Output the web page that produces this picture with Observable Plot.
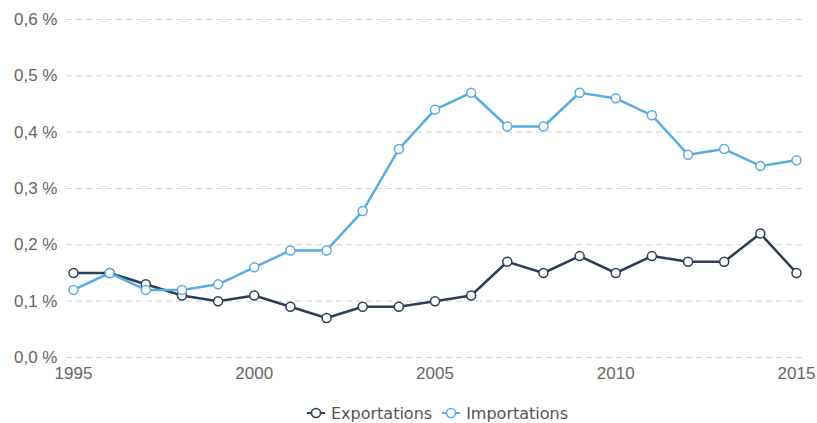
<!DOCTYPE html>
<html>
<head>
<meta charset="utf-8">
<script src="https://cdn.jsdelivr.net/npm/d3@7"></script>
<script src="https://cdn.jsdelivr.net/npm/@observablehq/plot@0.6"></script>
<style>
  body { margin: 0; background: #fff; }
  #chart svg { display: block; }
  .legend { display: flex; justify-content: center; align-items: center; gap: 10px; font-family: "DejaVu Sans", sans-serif; font-size: 16px; color: #555; height: 36px; margin-left: 58px; }
  .legend span { display: inline-flex; align-items: center; gap: 6px; }
</style>
</head>
<body>
<div id="chart"></div>
<div class="legend" id="legend"></div>
<script>
const years = [1995,1996,1997,1998,1999,2000,2001,2002,2003,2004,2005,2006,2007,2008,2009,2010,2011,2012,2013,2014,2015];
const exportations = [0.15,0.15,0.13,0.11,0.10,0.11,0.09,0.07,0.09,0.09,0.10,0.11,0.17,0.15,0.18,0.15,0.18,0.17,0.17,0.22,0.15];
const importations = [0.12,0.15,0.12,0.12,0.13,0.16,0.19,0.19,0.26,0.37,0.44,0.47,0.41,0.41,0.47,0.46,0.43,0.36,0.37,0.34,0.35];
const seriesNames = ["Exportations", "Importations"];
const seriesColors = ["#2b3d58", "#5aade0"];
const yTicks = [0, 0.1, 0.2, 0.3, 0.4, 0.5, 0.6];
const xTicks = [1995, 2000, 2005, 2010, 2015];

const data = [];
years.forEach((y, i) => {
  data.push({year: y, value: exportations[i], series: seriesNames[0]});
  data.push({year: y, value: importations[i], series: seriesNames[1]});
});

const fmt = d => d.toFixed(1).replace(".", ",") + " %";

const plot = Plot.plot({
  width: 817,
  height: 395,
  marginTop: 19,
  marginBottom: 38,
  marginLeft: 73,
  marginRight: 21,
  style: {fontFamily: "'Liberation Sans', Arial, sans-serif", fontSize: "17px", color: "#666", background: "#fff"},
  x: {domain: [1995, 2015], label: null},
  y: {domain: [0, 0.6], label: null},
  color: {domain: seriesNames, range: seriesColors},
  marks: [
    Plot.ruleY(yTicks, {stroke: "#d4d4d4", strokeDasharray: "6,4", strokeWidth: 1, insetLeft: -7, insetRight: -9}),
    Plot.axisX({ticks: xTicks, tickFormat: d => String(d), tickSize: 0, tickPadding: 9, fill: "#666", fontSize: 17, fontFamily: "'Liberation Sans', Arial, sans-serif"}),
    Plot.axisY({ticks: yTicks, tickFormat: fmt, tickSize: 0, tickPadding: 16, fill: "#666", fontSize: 17, fontFamily: "'Liberation Sans', Arial, sans-serif"}),
    Plot.line(data, {x: "year", y: "value", stroke: "series", z: "series", strokeWidth: 2.5}),
    Plot.dot(data, {x: "year", y: "value", stroke: "series", fill: "white", r: 4.5, strokeWidth: 1.5})
  ]
});
document.getElementById("chart").appendChild(plot);

const legend = document.getElementById("legend");
seriesNames.forEach((name, i) => {
  const s = document.createElement("span");
  s.innerHTML = `<svg width="18" height="12"><line x1="0" y1="6" x2="18" y2="6" stroke="${seriesColors[i]}" stroke-width="2"/><circle cx="9" cy="6" r="4.5" fill="white" stroke="${seriesColors[i]}" stroke-width="1.5"/></svg>${name}`;
  legend.appendChild(s);
});
</script>
</body>
</html>
